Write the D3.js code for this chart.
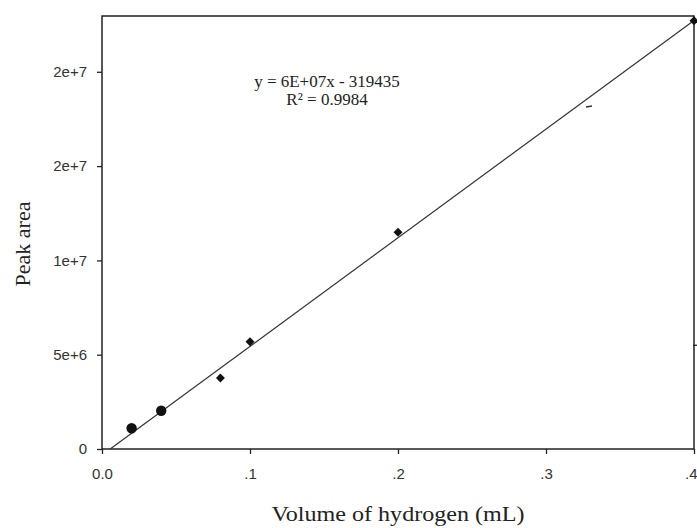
<!DOCTYPE html>
<html><head><meta charset="utf-8">
<script src="https://cdn.jsdelivr.net/npm/d3@7"></script>
<style>body{margin:0;background:#fff;}svg{display:block;}</style>
</head><body>
<svg id="c" width="697" height="528"></svg>
<script>
// Data
const volumes = [0.02, 0.04, 0.08, 0.1, 0.2, 0.4];
const peakAreas = [1.10e6, 2.03e6, 3.76e6, 5.69e6, 11.49e6, 22.71e6];
const markerKinds = ["circle", "circle", "diamond", "diamond", "diamond", "diamond"];
const xTicks = [0, 0.1, 0.2, 0.3, 0.4];
const xTickLabels = ["0.0", ".1", ".2", ".3", ".4"];
const yTicks = [0, 5e6, 1e7, 1.5e7, 2e7];
const yTickLabels = ["0", "5e+6", "1e+7", "2e+7", "2e+7"];
const trendSlope = 5.76e7;
const trendIntercept = -319435;
const trendX = [0.00555, 0.4];
const equationLines = ["y = 6E+07x - 319435", "R\u00B2 = 0.9984"];

const svg = d3.select("#c");
const L = 102, R = 694, T = 16, B = 449;
const x = d3.scaleLinear().domain([0, 0.4]).range([L, R]);
const y = d3.scaleLinear().domain([0, 2e7]).range([B, B - 4 * 94.3]);

const ink = "#222";
const sans = "Arial, 'Liberation Sans', sans-serif";
const serif = "'Liberation Serif', 'Times New Roman', serif";

// frame
svg.append("rect").attr("x", L).attr("y", T).attr("width", R - L).attr("height", B - T)
  .attr("fill", "none").attr("stroke", ink).attr("stroke-width", 1.5);

// x axis
const xa = svg.append("g").attr("transform", `translate(0,${B})`)
  .call(d3.axisBottom(x).tickValues(xTicks).tickSize(5).tickPadding(14)
    .tickFormat((d, i) => xTickLabels[i]));
xa.select(".domain").remove();
xa.selectAll("line").attr("stroke", ink).attr("stroke-width", 1.3);
xa.selectAll("text").attr("font-family", sans).attr("font-size", 15).attr("fill", "#333");
xa.selectAll(".tick:last-of-type text").attr("text-anchor", "end").attr("x", R + 2 - x(0.4) + 1);

// y axis
const ya = svg.append("g").attr("transform", `translate(${L},0)`)
  .call(d3.axisLeft(y).tickValues(yTicks).tickSize(5).tickPadding(10)
    .tickFormat((d, i) => yTickLabels[i]));
ya.select(".domain").remove();
ya.selectAll("line").attr("stroke", ink).attr("stroke-width", 1.3);
ya.selectAll("text").attr("font-family", sans).attr("font-size", 15).attr("fill", "#333");

// right side small tick
svg.append("line").attr("x1", R - 1).attr("x2", R + 3)
  .attr("y1", y(5.5e6)).attr("y2", y(5.5e6)).attr("stroke", ink).attr("stroke-width", 1.3);

// trend line
const line = d3.line().x(d => x(d)).y(d => y(trendSlope * d + trendIntercept));
svg.append("path").attr("d", line(trendX)).attr("fill", "none")
  .attr("stroke", "#333").attr("stroke-width", 1.2);

// points
const pts = svg.append("g");
volumes.forEach((v, i) => {
  const px = x(v), py = y(peakAreas[i]);
  if (markerKinds[i] === "circle") {
    pts.append("circle").attr("cx", px).attr("cy", py).attr("r", 5.2).attr("fill", "#111");
  } else {
    pts.append("path").attr("d", d3.symbol().type(d3.symbolSquare).size(40)())
      .attr("transform", `translate(${px},${py}) rotate(45)`).attr("fill", "#111");
  }
});

// small dash artifact
svg.append("line").attr("x1", 586).attr("x2", 592).attr("y1", 107).attr("y2", 106)
  .attr("stroke", "#333").attr("stroke-width", 1.5);

// equation
const eq = svg.append("text").attr("font-family", serif)
  .attr("font-size", 17).attr("fill", "#222").attr("text-anchor", "middle");
eq.append("tspan").attr("x", 327).attr("y", 87).text(equationLines[0]);
eq.append("tspan").attr("x", 327).attr("y", 105).text(equationLines[1]);

// axis titles
svg.append("text").attr("x", 398).attr("y", 521).attr("text-anchor", "middle")
  .attr("font-family", serif).attr("font-size", 22)
  .attr("textLength", 253).attr("lengthAdjust", "spacingAndGlyphs")
  .attr("fill", "#222").text("Volume of hydrogen (mL)");
svg.append("text").attr("transform", "translate(30,244) rotate(-90)").attr("text-anchor", "middle")
  .attr("font-family", serif).attr("font-size", 22)
  .attr("fill", "#222").text("Peak area");
</script>
</body></html>
